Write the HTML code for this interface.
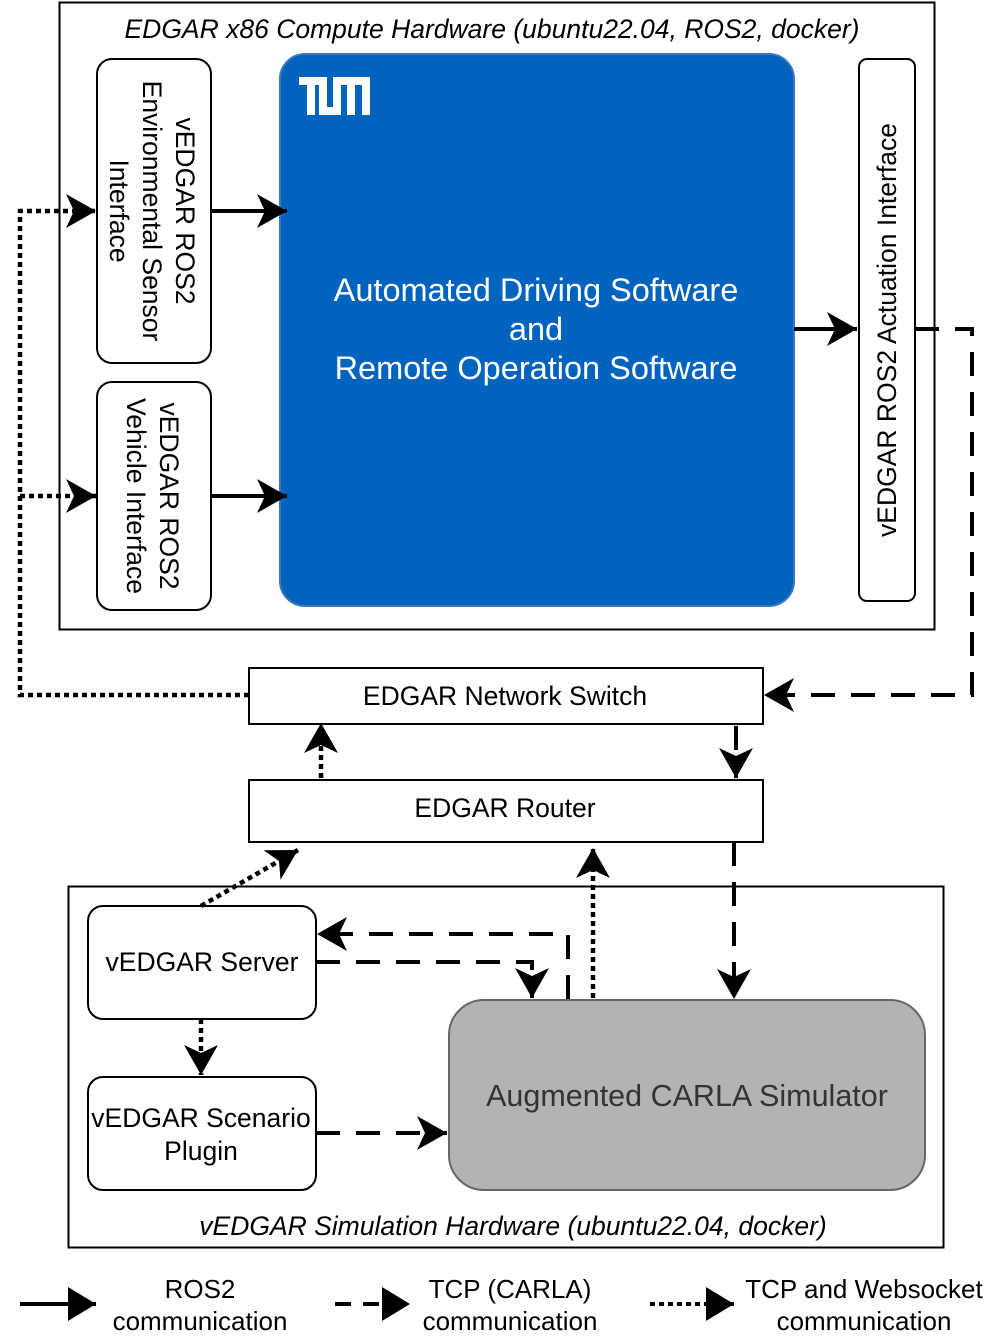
<!DOCTYPE html>
<html><head><meta charset="utf-8"><style>
html,body{margin:0;padding:0;background:#fff;}
svg{display:block;}
text{font-family:"Liberation Sans",Arial,sans-serif;}
</style></head><body>
<svg width="997" height="1340" viewBox="0 0 997 1340" xmlns="http://www.w3.org/2000/svg">
<defs>
<marker id="a" markerUnits="userSpaceOnUse" markerWidth="34" markerHeight="36" refX="30" refY="17" orient="auto">
<path d="M0,0 L30,17 L0,34 L8,17 z" fill="#000"/>
</marker>
<marker id="b" markerUnits="userSpaceOnUse" markerWidth="34" markerHeight="36" refX="28" refY="17" orient="auto">
<path d="M0,0 L28,17 L0,34 z" fill="#000"/>
</marker>
</defs>

<rect x="59.5" y="2.5" width="875" height="627" fill="#fff" stroke="#000" stroke-width="2"/>
<text x="492" y="38" font-size="26.5" font-style="italic" text-anchor="middle">EDGAR x86 Compute Hardware (ubuntu22.04, ROS2, docker)</text>

<rect x="97" y="59" width="114" height="304" rx="15" fill="#fff" stroke="#000" stroke-width="2"/>
<g transform="translate(154,211) rotate(90)" font-size="26.5" text-anchor="middle">
<text x="0" y="-22">vEDGAR ROS2</text>
<text x="0" y="11">Environmental Sensor</text>
<text x="0" y="44">Interface</text>
</g>
<rect x="97" y="382" width="114" height="228" rx="15" fill="#fff" stroke="#000" stroke-width="2"/>
<g transform="translate(154,496) rotate(90)" font-size="26.5" text-anchor="middle">
<text x="0" y="-6">vEDGAR ROS2</text>
<text x="0" y="27">Vehicle Interface</text>
</g>

<rect x="280" y="54" width="514" height="552" rx="25" fill="#0063BD" stroke="#3a78c0" stroke-width="2"/>
<g fill="#fff">
<rect x="299" y="77" width="24" height="8"/><rect x="307" y="77" width="8" height="38"/>
<rect x="319" y="77" width="8" height="38"/><rect x="319" y="107" width="22" height="8"/>
<rect x="333" y="77" width="8" height="38"/>
<rect x="337" y="77" width="33" height="8"/><rect x="347" y="77" width="8" height="38"/><rect x="362" y="77" width="8" height="38"/>
</g>
<g fill="#fff" font-size="32.5" text-anchor="middle">
<text x="536" y="301">Automated Driving Software</text>
<text x="536" y="340">and</text>
<text x="536" y="379">Remote Operation Software</text>
</g>

<rect x="859" y="59" width="56" height="542" rx="8" fill="#fff" stroke="#000" stroke-width="2"/>
<text transform="translate(896,330) rotate(-90)" font-size="26.5" text-anchor="middle">vEDGAR ROS2 Actuation Interface</text>

<rect x="249" y="668" width="514" height="56" fill="#fff" stroke="#000" stroke-width="2"/>
<text x="505" y="705" font-size="26.5" text-anchor="middle">EDGAR Network Switch</text>
<rect x="249" y="780" width="514" height="62" fill="#fff" stroke="#000" stroke-width="2"/>
<text x="505" y="817" font-size="26.5" text-anchor="middle">EDGAR Router</text>

<rect x="68.5" y="886.5" width="875" height="361" fill="#fff" stroke="#000" stroke-width="2"/>
<text x="513" y="1235" font-size="26.5" font-style="italic" text-anchor="middle">vEDGAR Simulation Hardware (ubuntu22.04, docker)</text>
<rect x="88" y="906" width="228" height="113" rx="15" fill="#fff" stroke="#000" stroke-width="2"/>
<text x="202" y="971" font-size="26.5" text-anchor="middle">vEDGAR Server</text>
<rect x="88" y="1077" width="228" height="113" rx="15" fill="#fff" stroke="#000" stroke-width="2"/>
<text x="201" y="1127" font-size="26.5" text-anchor="middle">vEDGAR Scenario</text>
<text x="201" y="1160" font-size="26.5" text-anchor="middle">Plugin</text>
<rect x="449" y="1000" width="476" height="190" rx="35" fill="#B3B3B3" stroke="#666" stroke-width="2"/>
<text x="687" y="1106" font-size="30.5" fill="#333" text-anchor="middle">Augmented CARLA Simulator</text>

<g fill="none" stroke="#000" stroke-width="4">
<path d="M211,211 H287" marker-end="url(#a)"/>
<path d="M211,496 H287" marker-end="url(#a)"/>
<path d="M794,329 H857" marker-end="url(#a)"/>
<g stroke-dasharray="5 4" stroke-width="4.5">
<path d="M249,695 H20 V211 H96" marker-end="url(#a)"/>
<path d="M20,496 H96" marker-end="url(#a)"/>
<path d="M321,778 V723" marker-end="url(#a)"/>
<path d="M201,906 L298,850" marker-end="url(#a)"/>
<path d="M593,998 V848" marker-end="url(#a)"/>
<path d="M201,1019 V1075" marker-end="url(#a)"/>
</g>
<g stroke-dasharray="24 16">
<path d="M915,329 H972 V695 H764" marker-end="url(#a)"/>
<path d="M736,726 V778" marker-end="url(#a)"/>
<path d="M734,842 V999" marker-end="url(#a)"/>
<path d="M568,999 V934 H317" marker-end="url(#a)"/>
<path d="M316,962 H532 V998" marker-end="url(#a)"/>
<path d="M316,1133 H447" marker-end="url(#a)"/>
</g>
<path d="M20,1304 H96" marker-end="url(#b)"/>
<path d="M335,1304 H410" stroke-dasharray="16 12" marker-end="url(#b)"/>
<path d="M650,1304 H734" stroke-dasharray="5 4" marker-end="url(#b)"/>
</g>
<g font-size="26" text-anchor="middle">
<text x="200" y="1298">ROS2</text><text x="200" y="1330">communication</text>
<text x="510" y="1298">TCP (CARLA)</text><text x="510" y="1330">communication</text>
<text x="864" y="1298">TCP and Websocket</text><text x="864" y="1330">communication</text>
</g>
</svg>
</body></html>
